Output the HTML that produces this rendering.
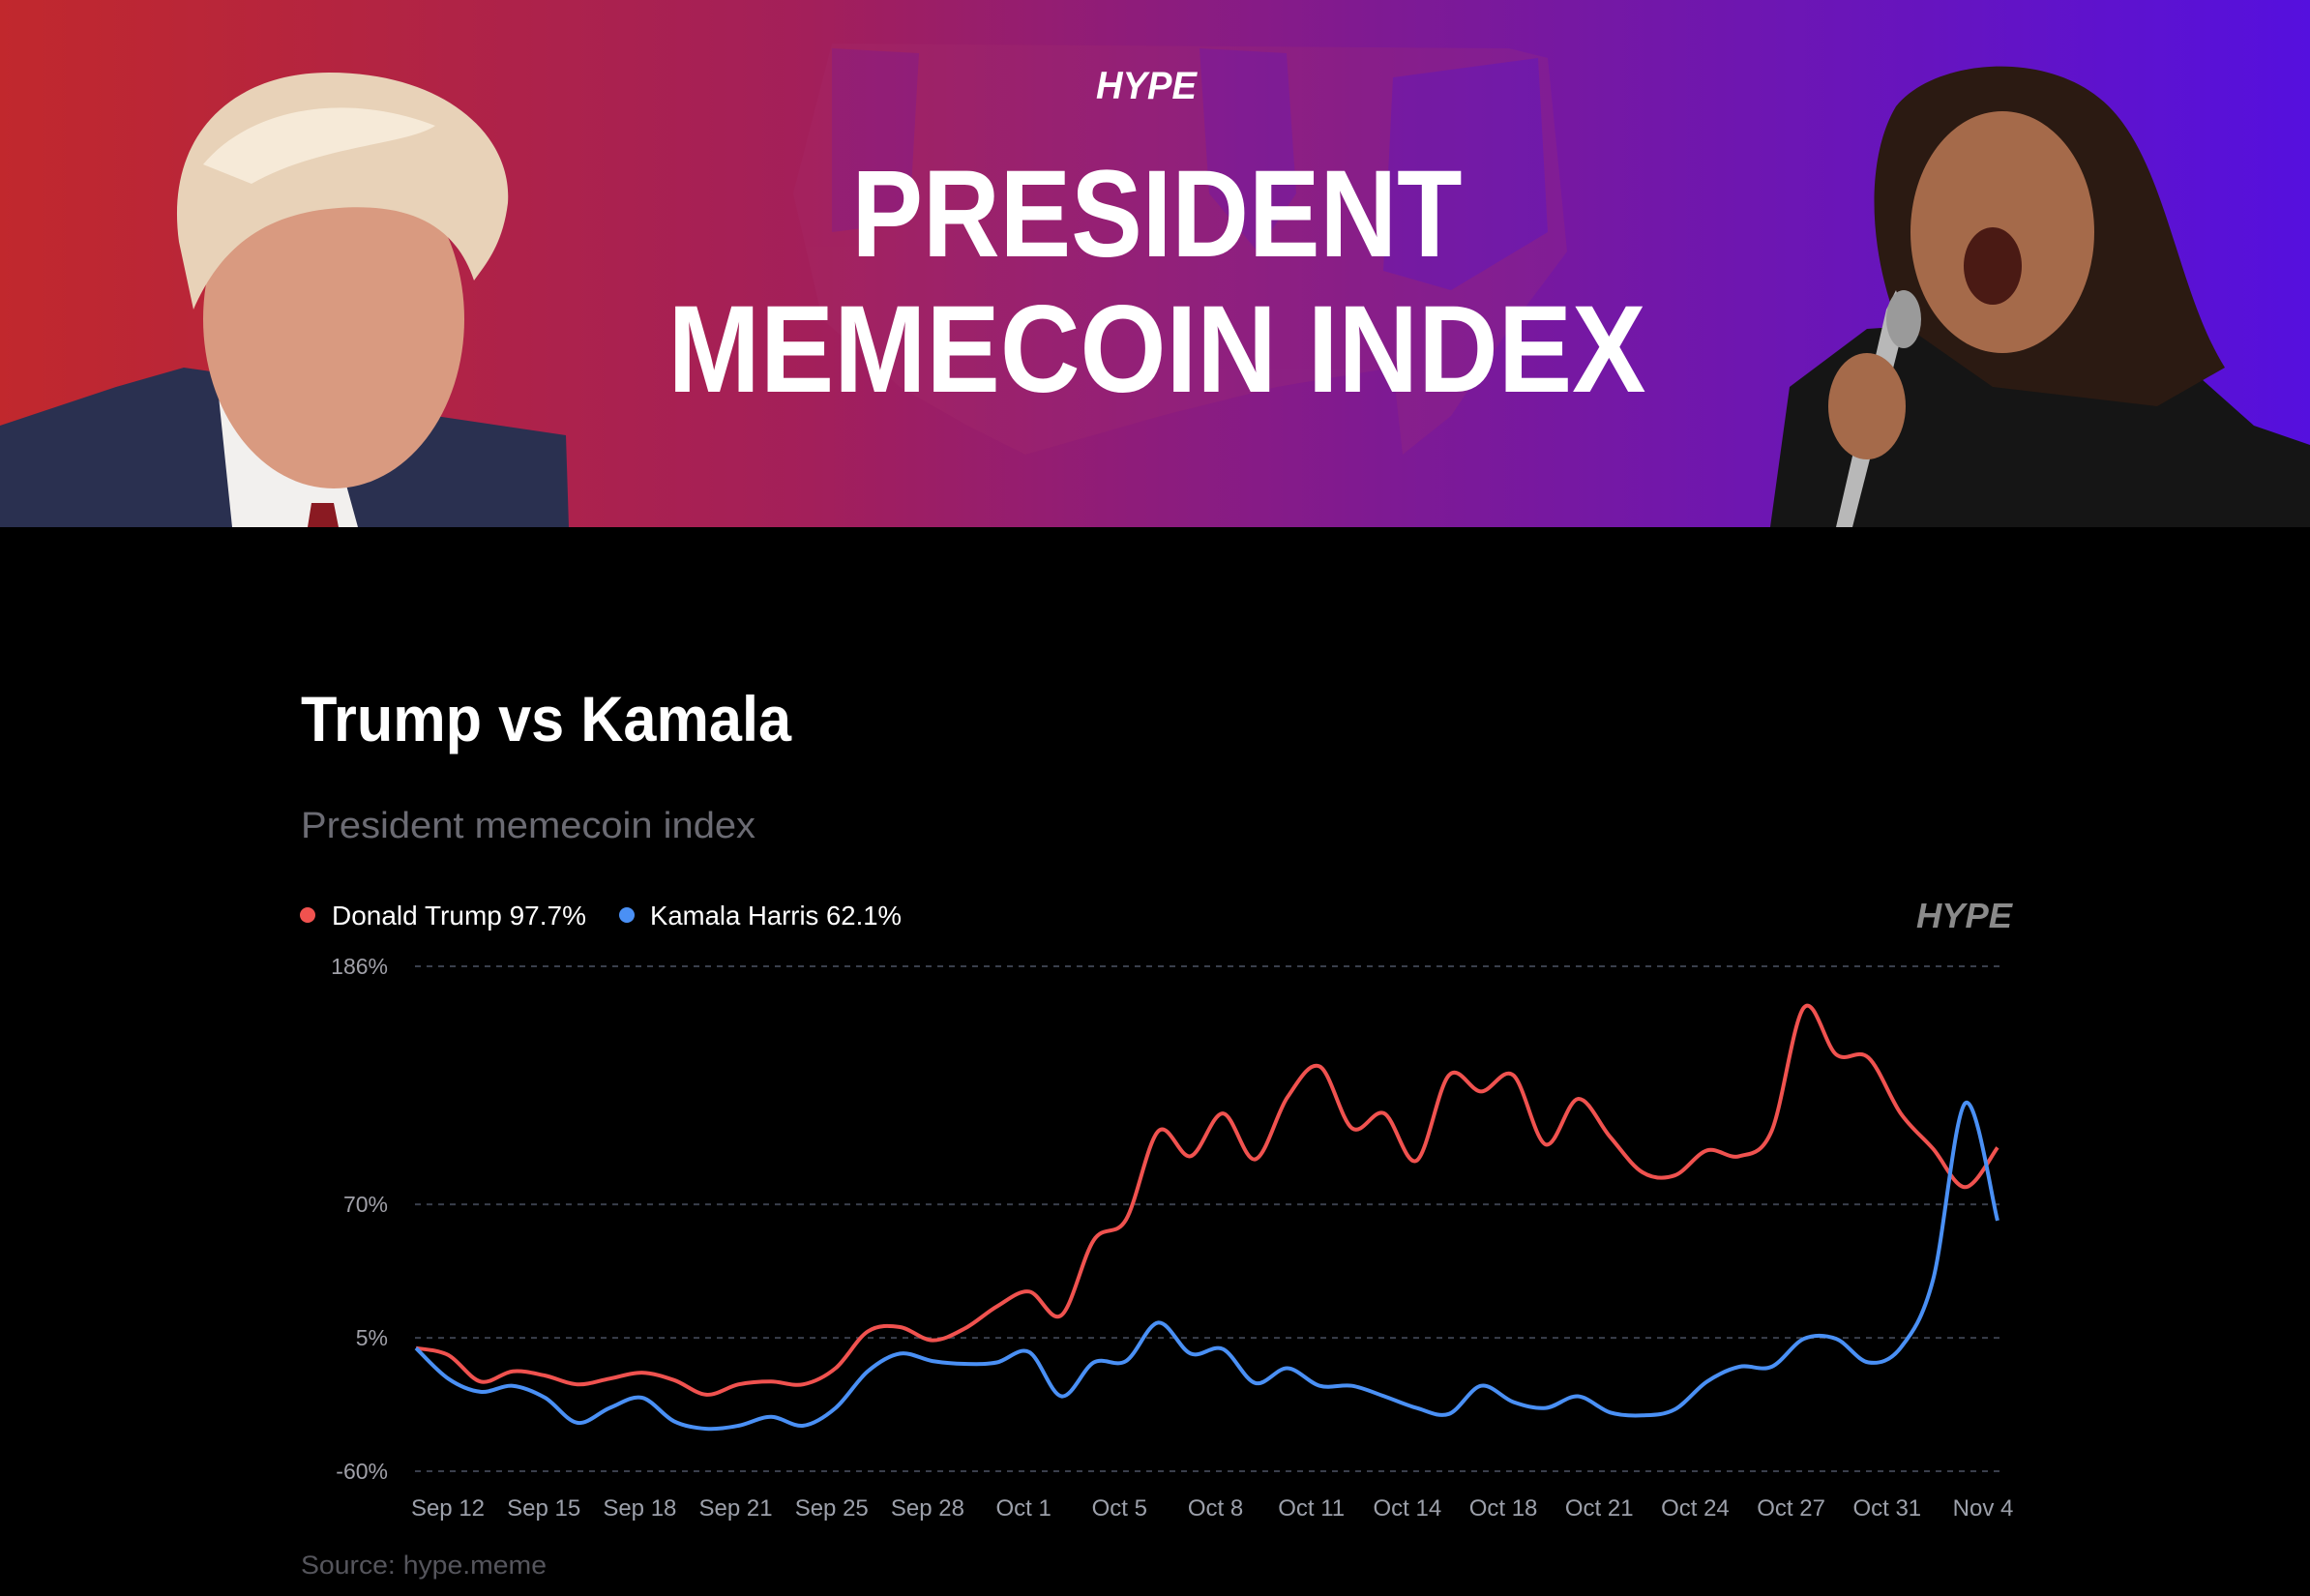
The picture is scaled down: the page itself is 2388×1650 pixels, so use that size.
<!DOCTYPE html>
<html><head><meta charset="utf-8"><style>
html,body{margin:0;padding:0;background:#000;}
svg{display:block;}
text{font-family:"Liberation Sans",sans-serif;}
</style></head><body>
<svg id="page" width="2388" height="1650" viewBox="0 0 2388 1650">
<defs>
<linearGradient id="hdr" x1="0" y1="0" x2="1" y2="0">
<stop offset="0" stop-color="#c1282d"/><stop offset="0.35" stop-color="#a31f5a"/><stop offset="0.6" stop-color="#7e1a93"/><stop offset="1" stop-color="#5510de"/>
</linearGradient>
</defs>
<rect x="0" y="0" width="2388" height="1650" fill="#000"/>
<g>
<rect x="0" y="0" width="2388" height="545" fill="url(#hdr)"/>
<g opacity="0.22">
<path d="M860 45 L1560 50 L1600 60 L1620 260 L1560 340 L1500 430 L1450 470 L1440 380 L1320 400 L1200 430 L1130 450 L1060 470 L1000 440 L930 400 L850 330 L820 200 Z" fill="#a8306e"/>
<path d="M1240 50 L1330 55 L1340 200 L1300 260 L1250 200 Z" fill="#6a20c0"/>
<path d="M1440 80 L1590 60 L1600 240 L1500 300 L1430 280 Z" fill="#5c1ed0"/>
<path d="M860 50 L950 55 L940 230 L860 240 Z" fill="#6a20c0"/>
</g>
<g>
<path d="M0 440 L120 400 L190 380 L330 400 L450 430 L585 450 L588 545 L0 545 Z" fill="#2a3050"/>
<path d="M225 400 L330 400 L370 545 L240 545 Z" fill="#f2f0ee"/>
<path d="M322 520 L345 520 L350 545 L318 545 Z" fill="#8a1a22"/>
<ellipse cx="345" cy="330" rx="135" ry="175" fill="#d99a80"/>
<path d="M185 250 C170 140 240 75 340 75 C460 75 530 140 525 210 C520 250 505 270 490 290 C470 230 420 210 350 215 C280 220 230 250 200 320 Z" fill="#e8d2b8"/>
<path d="M210 170 C260 110 360 95 450 130 C420 150 330 150 260 190 Z" fill="#f6ead8"/>
</g>
<g>
<path d="M1830 545 L1850 400 L1930 340 L2080 330 L2240 360 L2330 440 L2388 460 L2388 545 Z" fill="#151515"/>
<path d="M1960 110 C2000 60 2120 50 2180 110 C2240 170 2250 300 2300 380 L2230 420 L2060 400 L1960 330 C1930 250 1930 160 1960 110 Z" fill="#2b1a12"/>
<ellipse cx="2070" cy="240" rx="95" ry="125" fill="#a56a4a"/>
<ellipse cx="2060" cy="275" rx="30" ry="40" fill="#4a1a14"/>
<path d="M1960 300 L1970 330 L1915 545 L1898 545 L1950 320 Z" fill="#b8b8b8"/>
<ellipse cx="1968" cy="330" rx="18" ry="30" fill="#9a9a9a"/>
<ellipse cx="1930" cy="420" rx="40" ry="55" fill="#a56a4a"/>
</g>
<text x="1185" y="102" text-anchor="middle" font-size="40" font-weight="bold" font-style="italic" fill="#fff" textLength="104" lengthAdjust="spacingAndGlyphs">HYPE</text>
<text x="1196" y="265" text-anchor="middle" font-size="128" font-weight="bold" fill="#fff" textLength="631" lengthAdjust="spacingAndGlyphs">PRESIDENT</text>
<text x="1196" y="405" text-anchor="middle" font-size="128" font-weight="bold" fill="#fff" textLength="1011" lengthAdjust="spacingAndGlyphs">MEMECOIN INDEX</text>
</g>
<text x="311" y="766" font-size="66" font-weight="bold" fill="#fff" textLength="507" lengthAdjust="spacingAndGlyphs">Trump vs Kamala</text>
<text x="311" y="866" font-size="38" fill="#6b6b73" textLength="470" lengthAdjust="spacingAndGlyphs">President memecoin index</text>
<g>
<g>
<circle cx="318" cy="946" r="8" fill="#f0524f"/>
<text x="343" y="956" font-size="28" fill="#fff" textLength="263" lengthAdjust="spacingAndGlyphs">Donald Trump 97.7%</text>
</g>
<g>
<circle cx="648" cy="946" r="8" fill="#4a90f5"/>
<text x="672" y="956" font-size="28" fill="#fff" textLength="260" lengthAdjust="spacingAndGlyphs">Kamala Harris 62.1%</text>
</g>
</g>
<text x="2080" y="959" text-anchor="end" font-size="36" font-weight="bold" font-style="italic" fill="#8a8a8a" textLength="99" lengthAdjust="spacingAndGlyphs">HYPE</text>
<g id="chart"></g>
<text x="311" y="1627" font-size="27" fill="#55555c" textLength="254" lengthAdjust="spacingAndGlyphs">Source: hype.meme</text>
</svg>
<script>
const yTicks = [186, 70, 5, -60];
const xLabels = ["Sep 12","Sep 15","Sep 18","Sep 21","Sep 25","Sep 28","Oct 1","Oct 5","Oct 8","Oct 11","Oct 14","Oct 18","Oct 21","Oct 24","Oct 27","Oct 31","Nov 4"];
const trumpValues = [0,-3.4,-16.3,-11.3,-13.4,-17.7,-14.9,-12.0,-15.6,-22.7,-17.7,-16.3,-17.7,-9.8,8.1,10.2,3.8,9.5,20.3,27.5,16.0,52.6,62.6,105.7,93.5,114.3,92.0,122.2,137.2,107.1,114.3,91.3,132.9,125.0,132.9,99.2,121.4,102.8,85.6,84.1,96.3,93.5,105.7,165.9,143.0,141.5,114.3,97.1,78.4,97.7];
const harrisValues = [0,-14.9,-21.3,-18.4,-24.2,-36.4,-29.2,-24.2,-35.7,-39.3,-37.8,-33.5,-37.8,-29.2,-11.3,-2.7,-6.3,-7.7,-7.0,-2.0,-23.5,-7.0,-6.3,12.4,-2.7,-0.5,-17.0,-9.8,-18.4,-18.4,-23.5,-29.2,-32.1,-18.4,-26.3,-29.2,-23.5,-31.4,-32.8,-29.9,-16.3,-9.1,-9.1,4.5,4.5,-7.0,0.2,33.2,119.3,62.1];

const NS = "http://www.w3.org/2000/svg";
const chart = document.getElementById("chart");
const X0 = 430, X1 = 2065, GX1 = 2067, YTOP = 999, YBOT = 1521, YMAX = 186, YMIN = -60;
function xScale(i, n) { return X0 + (X1 - X0) * i / (n - 1); }
function yScale(v) { return YBOT - (v - YMIN) / (YMAX - YMIN) * (YBOT - YTOP); }

yTicks.forEach(t => {
  const ln = document.createElementNS(NS, "line");
  ln.setAttribute("x1", 429); ln.setAttribute("x2", GX1);
  ln.setAttribute("y1", yScale(t)); ln.setAttribute("y2", yScale(t));
  ln.setAttribute("stroke", "#3a3f4c"); ln.setAttribute("stroke-width", "2");
  ln.setAttribute("stroke-dasharray", "6 6");
  
  
  chart.appendChild(ln);
  const tx = document.createElementNS(NS, "text");
  tx.setAttribute("x", 401); tx.setAttribute("y", yScale(t) + 8);
  tx.setAttribute("text-anchor", "end"); tx.setAttribute("font-size", "23");
  tx.setAttribute("fill", "#a0a0a8");
  tx.textContent = t + "%";
  
  
  chart.appendChild(tx);
});

xLabels.forEach((l, i) => {
  const cx = 463 + i * (2050 - 463) / (xLabels.length - 1);
  const tx = document.createElementNS(NS, "text");
  tx.setAttribute("x", cx); tx.setAttribute("y", 1567);
  tx.setAttribute("text-anchor", "middle"); tx.setAttribute("font-size", "24");
  tx.setAttribute("fill", "#9ca0aa");
  tx.textContent = l;
  
  
  chart.appendChild(tx);
});

function smoothPath(vals) {
  const n = vals.length;
  const p = vals.map((v, i) => [xScale(i, n), yScale(v)]);
  let d = "M" + p[0][0].toFixed(1) + " " + p[0][1].toFixed(1);
  for (let i = 0; i < n - 1; i++) {
    const p0 = p[Math.max(0, i - 1)], p1 = p[i], p2 = p[i + 1], p3 = p[Math.min(n - 1, i + 2)];
    const c1x = p1[0] + (p2[0] - p0[0]) / 6, c1y = p1[1] + (p2[1] - p0[1]) / 6;
    const c2x = p2[0] - (p3[0] - p1[0]) / 6, c2y = p2[1] - (p3[1] - p1[1]) / 6;
    d += " C" + c1x.toFixed(1) + " " + c1y.toFixed(1) + " " + c2x.toFixed(1) + " " + c2y.toFixed(1) + " " + p2[0].toFixed(1) + " " + p2[1].toFixed(1);
  }
  return d;
}

const trumpLine = document.createElementNS(NS, "path");
trumpLine.setAttribute("d", smoothPath(trumpValues));
trumpLine.setAttribute("fill", "none"); trumpLine.setAttribute("stroke", "#f0524f");
trumpLine.setAttribute("stroke-width", "4"); trumpLine.setAttribute("stroke-linejoin", "round");


chart.appendChild(trumpLine);

const harrisLine = document.createElementNS(NS, "path");
harrisLine.setAttribute("d", smoothPath(harrisValues));
harrisLine.setAttribute("fill", "none"); harrisLine.setAttribute("stroke", "#4a90f5");
harrisLine.setAttribute("stroke-width", "4"); harrisLine.setAttribute("stroke-linejoin", "round");


chart.appendChild(harrisLine);
</script>
</body></html>
